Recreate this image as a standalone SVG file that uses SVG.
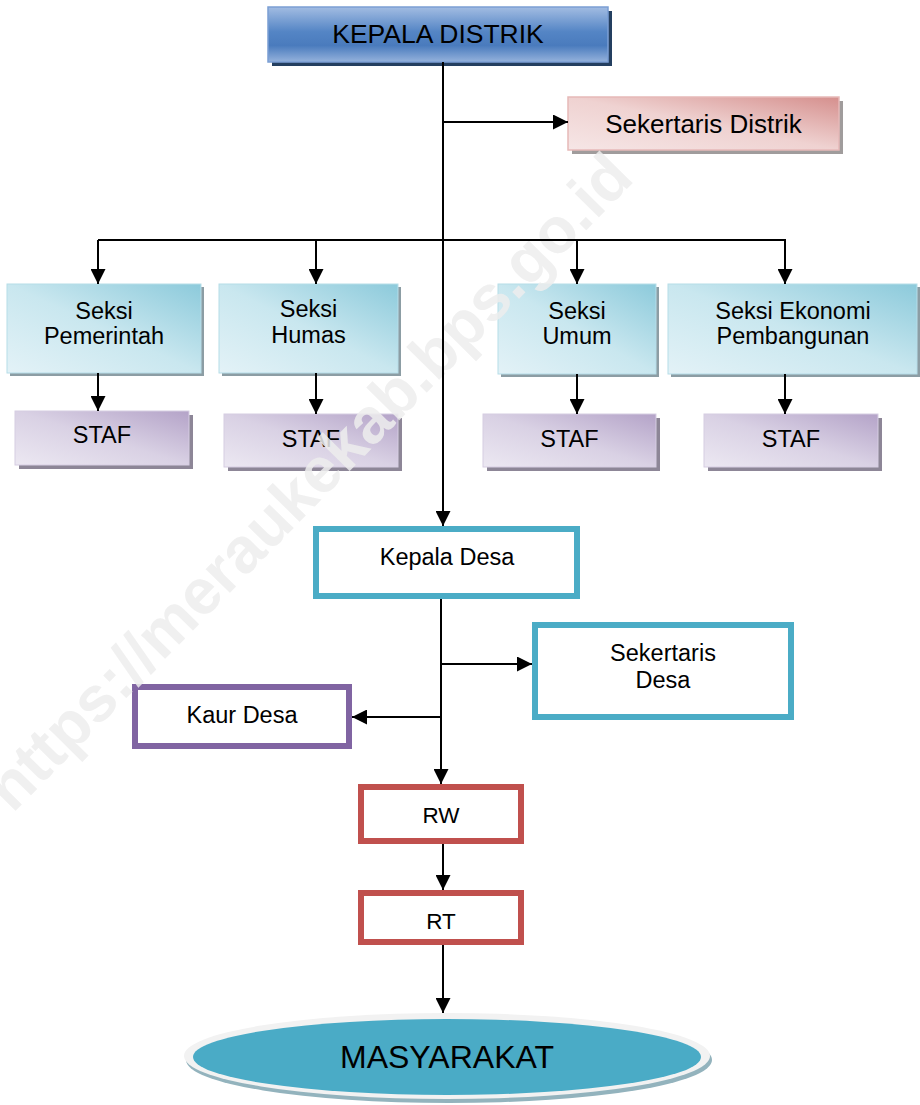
<svg xmlns="http://www.w3.org/2000/svg" width="920" height="1105" viewBox="0 0 920 1105">
<style>
text{font-family:"Liberation Sans",Arial,sans-serif;fill:#000;text-anchor:middle}
.c{stroke:#000;stroke-width:2;fill:none}
.ca{stroke:#000;stroke-width:2;fill:none;marker-end:url(#ah)}
.seksi{fill:url(#gTeal);stroke:#b6dde8;stroke-width:1}
.staf{fill:url(#gPurple);stroke:#d6cde2;stroke-width:1}
.sh1{fill:#8c9da4}
.sh2{fill:#8d8697}
.t23{font-size:23.5px}
.t22{font-size:22.5px}
.teal{fill:#fff;stroke:#4bacc6;stroke-width:6}
.red{fill:#fff;stroke:#c0504d;stroke-width:6}
.purp{fill:#fff;stroke:#8064a2;stroke-width:6}
</style>
<defs>
<marker id="ah" markerUnits="userSpaceOnUse" markerWidth="15" markerHeight="15" refX="15" refY="7.5" orient="auto">
<path d="M0,0 L15,7.5 L0,15 z" fill="#000"/>
</marker>
<linearGradient id="gBlue" x1="0" y1="0" x2="0" y2="1">
<stop offset="0" stop-color="#a2bce2"/>
<stop offset="0.45" stop-color="#5485c5"/>
<stop offset="0.7" stop-color="#4a7bbd"/>
<stop offset="1" stop-color="#95b2dc"/>
</linearGradient>
<linearGradient id="gPink" x1="1" y1="0" x2="0" y2="1">
<stop offset="0" stop-color="#d58f8d"/>
<stop offset="0.5" stop-color="#efd2d1"/>
<stop offset="1" stop-color="#f6e6e6"/>
</linearGradient>
<linearGradient id="gTeal" x1="1" y1="0" x2="0" y2="1">
<stop offset="0" stop-color="#8ccadb"/>
<stop offset="0.5" stop-color="#c9e7ef"/>
<stop offset="1" stop-color="#e3f2f7"/>
</linearGradient>
<linearGradient id="gPurple" x1="1" y1="0" x2="0" y2="1">
<stop offset="0" stop-color="#b4a3c8"/>
<stop offset="0.5" stop-color="#d9d1e4"/>
<stop offset="1" stop-color="#ece8f2"/>
</linearGradient>
</defs>
<rect width="920" height="1105" fill="#fff"/>

<g id="kepala-distrik">
<rect x="272" y="11" width="340" height="55" fill="#243f60"/>
<rect x="268" y="7" width="340" height="55" fill="url(#gBlue)" stroke="#7b9fd4" stroke-width="1.5"/>
<text x="438" y="43" style="font-size:26.5px">KEPALA DISTRIK</text>
</g>

<g id="sekertaris-distrik">
<rect x="572" y="101" width="271" height="53" fill="#a09c9c"/>
<rect x="568" y="97" width="271" height="53" fill="url(#gPink)" stroke="#e6b9b8" stroke-width="1.5"/>
<text x="703.5" y="133" style="font-size:26px">Sekertaris Distrik</text>
</g>

<g id="seksi-pemerintah">
<rect class="sh1" x="10" y="287" width="194" height="89"/>
<rect class="seksi" x="7" y="284" width="194" height="89"/>
<text class="t23" x="104" y="319">Seksi</text>
<text class="t23" x="104" y="344">Pemerintah</text>
</g>
<g id="seksi-humas">
<rect class="sh1" x="222" y="287" width="179" height="89"/>
<rect class="seksi" x="219" y="284" width="179" height="89"/>
<text class="t23" x="308.5" y="317">Seksi</text>
<text class="t23" x="308.5" y="343">Humas</text>
</g>
<g id="seksi-umum">
<rect class="sh1" x="501" y="287" width="158" height="90"/>
<rect class="seksi" x="498" y="284" width="158" height="90"/>
<text class="t23" x="577" y="319">Seksi</text>
<text class="t23" x="577" y="344">Umum</text>
</g>
<g id="seksi-ekonomi">
<rect class="sh1" x="671" y="287" width="249" height="90"/>
<rect class="seksi" x="668" y="284" width="249" height="90"/>
<text class="t23" x="793" y="319">Seksi Ekonomi</text>
<text class="t23" x="793" y="344">Pembangunan</text>
</g>

<g id="staf-pemerintah">
<rect class="sh2" x="19" y="415" width="174" height="54"/>
<rect class="staf" x="15" y="411" width="174" height="54"/>
<text class="t23" x="102" y="443">STAF</text>
</g>
<g id="staf-humas">
<rect class="sh2" x="228" y="418" width="174" height="53"/>
<rect class="staf" x="224" y="414" width="174" height="53"/>
<text class="t23" x="311" y="447">STAF</text>
</g>
<g id="staf-umum">
<rect class="sh2" x="487" y="418" width="173" height="53"/>
<rect class="staf" x="483" y="414" width="173" height="53"/>
<text class="t23" x="569.5" y="447">STAF</text>
</g>
<g id="staf-ekonomi">
<rect class="sh2" x="708" y="418" width="174" height="53"/>
<rect class="staf" x="704" y="414" width="174" height="53"/>
<text class="t23" x="791" y="447">STAF</text>
</g>

<g id="kepala-desa">
<rect class="teal" x="316" y="529" width="261" height="67"/>
<text class="t23" x="447" y="565">Kepala Desa</text>
</g>
<g id="sekertaris-desa">
<rect class="teal" x="535" y="625" width="256" height="92"/>
<text class="t23" x="663" y="661">Sekertaris</text>
<text class="t23" x="663" y="688">Desa</text>
</g>
<g id="kaur-desa">
<rect class="purp" x="135" y="687" width="214" height="59"/>
<text class="t23" x="242" y="723">Kaur Desa</text>
</g>
<g id="rw">
<rect class="red" x="361" y="787" width="160" height="54"/>
<text class="t22" x="441" y="823">RW</text>
</g>
<g id="rt">
<rect class="red" x="361" y="893" width="160" height="49"/>
<text class="t22" x="441" y="929">RT</text>
</g>
<g id="masyarakat">
<ellipse cx="449" cy="1060" rx="263" ry="43" fill="#93b3bd"/>
<ellipse cx="447" cy="1056" rx="263" ry="43" fill="#f2f2f2"/>
<ellipse cx="447" cy="1057" rx="254" ry="38" fill="#4aabc6"/>
<text x="447" y="1068" style="font-size:32px">MASYARAKAT</text>
</g>

<g id="watermark">
<text x="324" y="497" transform="rotate(-45.5 324 497)" style="font-size:64px;font-weight:bold;fill:#eeeeee;opacity:0.85">https://meraukekab.bps.go.id</text>
</g>

<g id="connectors">
<path class="ca" d="M443,62 V526"/>
<path class="ca" d="M443,122 H568"/>
<path class="c" d="M98,240 H786"/>
<path class="ca" d="M98,240 V284"/>
<path class="ca" d="M316,240 V284"/>
<path class="ca" d="M577,240 V284"/>
<path class="ca" d="M785,240 V284"/>
<path class="ca" d="M98,373 V411"/>
<path class="ca" d="M316,373 V414"/>
<path class="ca" d="M577,374 V414"/>
<path class="ca" d="M785,374 V414"/>
<path class="ca" d="M441,599 V784"/>
<path class="ca" d="M441,664 H532"/>
<path class="ca" d="M441,717 H352"/>
<path class="ca" d="M443,844 V890"/>
<path class="ca" d="M443,945 V1013"/>
</g>
</svg>
